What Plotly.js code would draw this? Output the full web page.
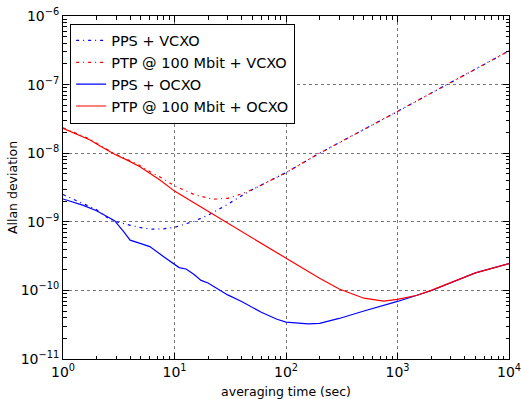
<!DOCTYPE html>
<html>
<head>
<meta charset="utf-8">
<script src="https://cdn.plot.ly/plotly-3.0.1.min.js"></script>
<style>html,body{margin:0;padding:0;background:#fff;}#chart{width:521px;height:399px;}</style>
</head>
<body>
<div id="chart"></div>
<script>
// Averaging times (sec) and Allan deviation values
const ppsVcxoTau = [1, 1.36, 1.6, 2, 2.55, 3, 3.7, 5, 6.4, 8, 10, 12, 15, 20, 30, 40, 50, 70, 100, 200, 500, 1000, 2000, 5000, 10000];
const ppsVcxoDev = [2.5e-9, 2.0e-9, 1.8e-9, 1.5e-9, 1.12e-9, 1.0e-9, 9.2e-10, 8.2e-10, 7.8e-10, 7.9e-10, 8.3e-10, 9.2e-10, 1.02e-9, 1.25e-9, 1.8e-9, 2.4e-9, 2.95e-9, 3.9e-9, 5.2e-9, 1.0e-8, 2.2e-8, 4.06e-8, 7.5e-8, 1.7e-7, 3.1e-7];

const ptpVcxoTau = [1, 1.75, 2.15, 2.93, 3.73, 4.9, 6, 8, 10, 15, 22, 30, 40, 50, 70, 100, 200, 500, 1000, 2000, 5000, 10000];
const ptpVcxoDev = [2.35e-8, 1.6e-8, 1.3e-8, 9.8e-9, 8.2e-9, 6.6e-9, 5.4e-9, 4.2e-9, 3.35e-9, 2.5e-9, 2.13e-9, 2.2e-9, 2.55e-9, 2.95e-9, 3.9e-9, 5.2e-9, 1.0e-8, 2.2e-8, 4.06e-8, 7.5e-8, 1.7e-7, 3.1e-7];

const ppsOcxoTau = [1, 1.5, 2, 2.5, 2.9, 3.5, 4, 5, 6, 8, 9.1, 10, 11, 12.7, 15, 17.3, 20, 30, 40, 60, 83, 100, 158, 200, 300, 500, 1000, 2000, 5000, 10000];
const ppsOcxoDev = [2.15e-9, 1.75e-9, 1.45e-9, 1.2e-9, 1.04e-9, 7.2e-10, 5.4e-10, 4.8e-10, 4.35e-10, 3.1e-10, 2.65e-10, 2.35e-10, 2.15e-10, 2.05e-10, 1.7e-10, 1.4e-10, 1.28e-10, 8.6e-11, 6.9e-11, 4.8e-11, 3.8e-11, 3.45e-11, 3.25e-11, 3.3e-11, 3.9e-11, 5.0e-11, 6.9e-11, 9.9e-11, 1.8e-10, 2.45e-10];

const ptpOcxoTau = [1, 1.75, 2.15, 2.93, 3.73, 4.9, 7.4, 10, 20, 50, 100, 133, 200, 300, 500, 750, 1000, 1500, 2000, 5000, 10000];
const ptpOcxoDev = [2.3e-8, 1.56e-8, 1.27e-8, 9.6e-9, 8.0e-9, 6.35e-9, 4.07e-9, 2.8e-9, 1.42e-9, 5.8e-10, 2.87e-10, 2.17e-10, 1.5e-10, 1.05e-10, 7.7e-11, 7.0e-11, 7.4e-11, 8.5e-11, 1.0e-10, 1.8e-10, 2.45e-10];

const seriesNames = ["PPS + VCXO", "PTP @ 100 Mbit + VCXO", "PPS + OCXO", "PTP @ 100 Mbit + OCXO"];

const xTickVals = [1, 10, 100, 1000, 10000];
const xTickText = ["10<sup>0</sup>", "10<sup>1</sup>", "10<sup>2</sup>", "10<sup>3</sup>", "10<sup>4</sup>"];
const yTickVals = [1e-11, 1e-10, 1e-9, 1e-8, 1e-7, 1e-6];
const yTickText = ["10<sup>−11</sup>", "10<sup>−10</sup>", "10<sup>−9</sup>", "10<sup>−8</sup>", "10<sup>−7</sup>", "10<sup>−6</sup>"];
const minorDigits = [2, 3, 4, 5, 6, 7, 8, 9];

function minorVals(majors) {
  const out = [];
  for (let i = 0; i < majors.length - 1; i++) {
    for (const d of minorDigits) out.push(majors[i] * d);
  }
  return out;
}

const dashDot = "3px,4px,1px,4px";
const traces = [
  {x: ppsVcxoTau, y: ppsVcxoDev, name: seriesNames[0], mode: "lines", line: {color: "#0000ff", width: 1.2, dash: dashDot}},
  {x: ptpVcxoTau, y: ptpVcxoDev, name: seriesNames[1], mode: "lines", line: {color: "#ff0000", width: 1.2, dash: dashDot}},
  {x: ppsOcxoTau, y: ppsOcxoDev, name: seriesNames[2], mode: "lines", line: {color: "#0000ff", width: 1.2}},
  {x: ptpOcxoTau, y: ptpOcxoDev, name: seriesNames[3], mode: "lines", line: {color: "#ff0000", width: 1.2}},
  // invisible copy that only carries the minor-tick overlay axes
  {x: ppsVcxoTau, y: ppsVcxoDev, xaxis: "x2", yaxis: "y2", mode: "lines", opacity: 0, line: {width: 0}, showlegend: false, hoverinfo: "skip"}
];

const mainAxis = {
  type: "log",
  showline: true, linecolor: "#000", linewidth: 1, mirror: "allticks",
  ticks: "inside", ticklen: 6, tickcolor: "#000", tickwidth: 1,
  showgrid: true, gridcolor: "#777", griddash: "dot", gridwidth: 1,
  zeroline: false, ticklabeloverflow: "allow",
  tickfont: {family: "DejaVu Sans", size: 14, color: "#000"}
};

const minorAxis = {
  type: "log", tickmode: "array",
  showline: true, linecolor: "#000", linewidth: 1, mirror: "allticks",
  ticks: "inside", ticklen: 3.5, tickcolor: "#000", tickwidth: 1,
  showgrid: false, zeroline: false, showticklabels: false
};

const layout = {
  width: 521, height: 399,
  margin: {l: 63, r: 12, t: 16, b: 40},
  paper_bgcolor: "#fff", plot_bgcolor: "#fff",
  font: {family: "DejaVu Sans", color: "#000"},
  showlegend: true,
  legend: {
    x: 0.016, y: 0.978, xanchor: "left", yanchor: "top",
    bgcolor: "#fff", bordercolor: "#000", borderwidth: 1,
    font: {family: "DejaVu Sans", size: 14.5, color: "#000"},
    tracegroupgap: 0
  },
  xaxis: Object.assign({}, mainAxis, {
    range: [0, 4], tickvals: xTickVals, ticktext: xTickText,
    title: {text: "averaging time (sec)", font: {family: "DejaVu Sans", size: 12.5}, standoff: 9}
  }),
  yaxis: Object.assign({}, mainAxis, {
    range: [-11, -6], tickvals: yTickVals, ticktext: yTickText,
    title: {text: "Allan deviation", font: {family: "DejaVu Sans", size: 12.5}, standoff: 0}
  }),
  xaxis2: Object.assign({}, minorAxis, {
    overlaying: "x", anchor: "y2", side: "bottom", range: [0, 4], tickvals: minorVals(xTickVals)
  }),
  yaxis2: Object.assign({}, minorAxis, {
    overlaying: "y", anchor: "x2", side: "left", range: [-11, -6], tickvals: minorVals(yTickVals)
  })
};

Plotly.newPlot("chart", traces, layout, {displayModeBar: false, staticPlot: true});
</script>
</body>
</html>
